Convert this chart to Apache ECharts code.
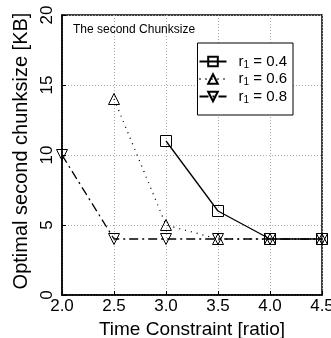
<!DOCTYPE html>
<html>
<head>
<meta charset="utf-8">
<script src="https://cdn.jsdelivr.net/npm/echarts@6/dist/echarts.min.js"></script>
<style>html,body{margin:0;padding:0;background:#fff}#c{width:331px;height:338px}</style>
</head>
<body>
<div id="c"></div>
<script>
// Optimal second chunksize vs. time constraint
const seriesNames = ['0.4', '0.6', '0.8'];
const r04 = [[3.0, 11], [3.5, 6], [4.0, 4], [4.5, 4]];
const r06 = [[2.5, 14], [3.0, 5], [3.5, 4], [4.0, 4], [4.5, 4]];
const r08 = [[2.0, 10], [2.5, 4], [3.0, 4], [3.5, 4], [4.0, 4], [4.5, 4]];
const xTicks = [2.0, 2.5, 3.0, 3.5, 4.0, 4.5];

const FONT = '"Liberation Sans", Arial, sans-serif';
const chart = echarts.init(document.getElementById('c'));

const mkSeries = (name, data, symbol, rotate, lineType) => ({
  name: name,
  type: 'line',
  data: data,
  symbol: symbol,
  symbolSize: 11,
  symbolRotate: rotate,
  showAllSymbol: true,
  lineStyle: { color: '#000', width: 1.3, type: lineType },
  itemStyle: { color: 'rgba(0,0,0,0)', borderColor: '#000', borderWidth: 1 },
  emphasis: { disabled: true },
  z: 3
});

const option = {
  animation: false,
  textStyle: { fontFamily: FONT },
  title: {
    text: 'The second Chunksize',
    left: 73, top: 24,
    padding: 0,
    textStyle: { fontSize: 12, fontWeight: 'normal', color: '#000', fontFamily: FONT }
  },
  grid: {
    left: 62, right: 9, top: 15, bottom: 43,
    outerBoundsMode: 'none',
    containLabel: false,
    show: true, borderColor: '#000', borderWidth: 1.5
  },
  legend: {
    right: 38, top: 43,
    orient: 'vertical',
    itemWidth: 27, itemHeight: 12, itemGap: 0.5,
    padding: [10, 6, 10, 1],
    borderColor: '#000', borderWidth: 1,
    backgroundColor: '#fff',
    data: seriesNames,
    formatter: (n) => '{a|r}{s|1}{a| = ' + n + '}',
    textStyle: {
      padding: [0, 0, 0, 7],
      rich: {
        a: { fontSize: 15, lineHeight: 12, color: '#000', fontFamily: FONT },
        s: { fontSize: 10, lineHeight: 12, color: '#000', fontFamily: FONT, padding: [7, 0, 0, 0] }
      }
    }
  },
  xAxis: {
    type: 'value',
    min: 2.0, max: 4.5, interval: 0.5,
    name: 'Time Constraint [ratio]',
    nameLocation: 'middle', nameGap: 20,
    nameTextStyle: { fontSize: 19, color: '#000', fontFamily: FONT },
    axisLine: { lineStyle: { color: '#000', width: 1.5 } },
    axisTick: { inside: true, length: 4, lineStyle: { color: '#000' } },
    axisLabel: {
      fontSize: 17, color: '#000', margin: 3, fontFamily: FONT,
      formatter: (v) => xTicks.includes(v) ? v.toFixed(1) : ''
    },
    splitLine: { show: true, lineStyle: { color: '#aaa', type: [1, 2], width: 1 } }
  },
  yAxis: {
    type: 'value',
    min: 0, max: 20, interval: 5,
    name: 'Optimal second chunksize [KB]',
    nameLocation: 'middle', nameGap: 25,
    nameTextStyle: { fontSize: 20, color: '#000', fontFamily: FONT, padding: [0, 0, 0, 8] },
    axisLine: { lineStyle: { color: '#000', width: 1.5 } },
    axisTick: { inside: true, length: 4, lineStyle: { color: '#000' } },
    axisLabel: { fontSize: 17, color: '#000', rotate: 90, margin: 6, fontFamily: FONT },
    splitLine: { show: true, lineStyle: { color: '#aaa', type: [1, 2], width: 1 } }
  },
  series: [
    mkSeries('0.4', r04, 'rect', 0, 'solid'),
    mkSeries('0.6', r06, 'triangle', 0, [1, 5]),
    mkSeries('0.8', r08, 'triangle', 180, [9, 4, 2, 4])
  ]
};

chart.setOption(option);
</script>
</body>
</html>
